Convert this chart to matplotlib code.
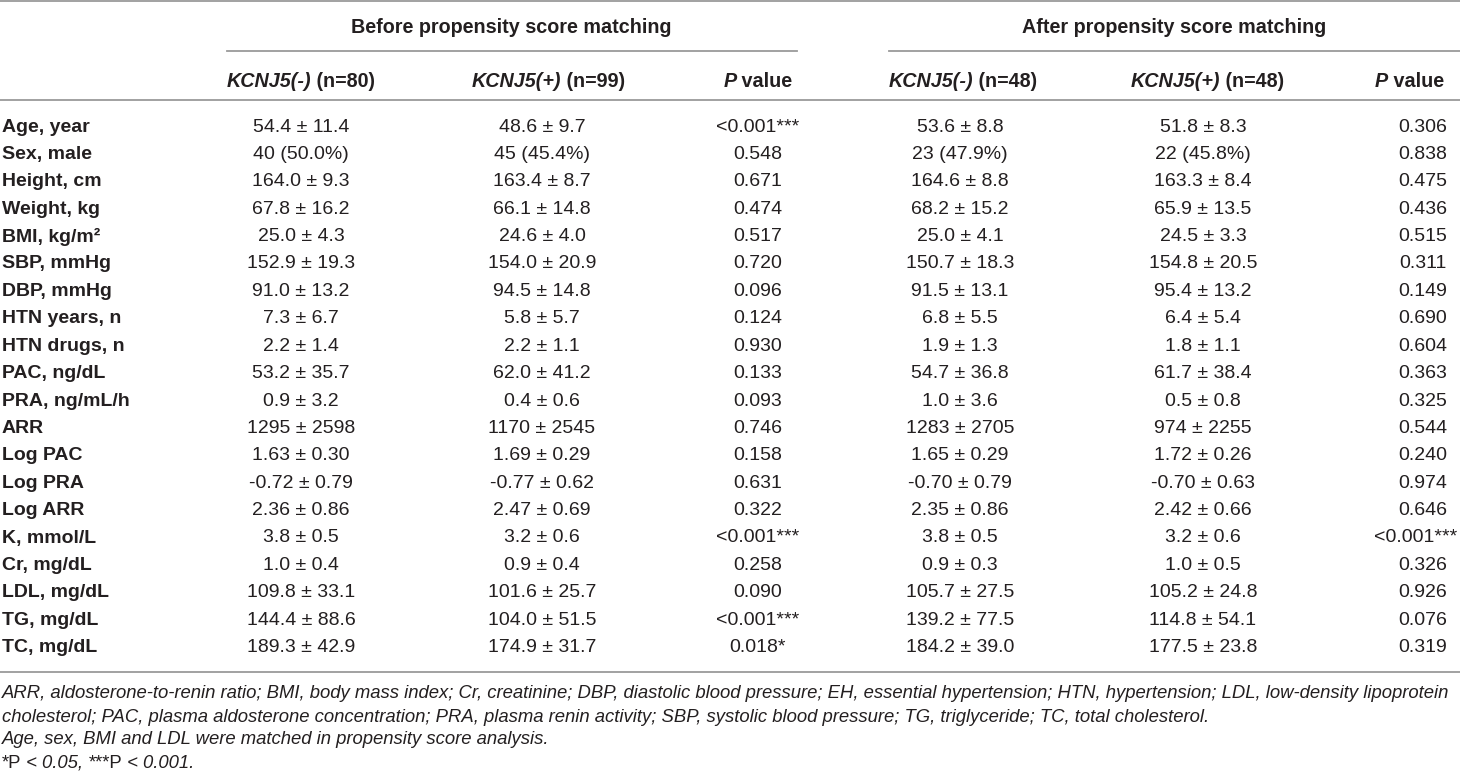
import matplotlib
matplotlib.use("Agg")
import matplotlib.pyplot as plt

# ---------------- data ----------------
row_labels = ["Age, year", "Sex, male", "Height, cm", "Weight, kg", "BMI, kg/m²",
              "SBP, mmHg", "DBP, mmHg", "HTN years, n", "HTN drugs, n", "PAC, ng/dL",
              "PRA, ng/mL/h", "ARR", "Log PAC", "Log PRA", "Log ARR", "K, mmol/L",
              "Cr, mg/dL", "LDL, mg/dL", "TG, mg/dL", "TC, mg/dL"]
before_neg = ["54.4 ± 11.4", "40 (50.0%)", "164.0 ± 9.3", "67.8 ± 16.2", "25.0 ± 4.3",
              "152.9 ± 19.3", "91.0 ± 13.2", "7.3 ± 6.7", "2.2 ± 1.4", "53.2 ± 35.7",
              "0.9 ± 3.2", "1295 ± 2598", "1.63 ± 0.30", "-0.72 ± 0.79", "2.36 ± 0.86",
              "3.8 ± 0.5", "1.0 ± 0.4", "109.8 ± 33.1", "144.4 ± 88.6", "189.3 ± 42.9"]
before_pos = ["48.6 ± 9.7", "45 (45.4%)", "163.4 ± 8.7", "66.1 ± 14.8", "24.6 ± 4.0",
              "154.0 ± 20.9", "94.5 ± 14.8", "5.8 ± 5.7", "2.2 ± 1.1", "62.0 ± 41.2",
              "0.4 ± 0.6", "1170 ± 2545", "1.69 ± 0.29", "-0.77 ± 0.62", "2.47 ± 0.69",
              "3.2 ± 0.6", "0.9 ± 0.4", "101.6 ± 25.7", "104.0 ± 51.5", "174.9 ± 31.7"]
before_p = ["<0.001***", "0.548", "0.671", "0.474", "0.517", "0.720", "0.096", "0.124",
            "0.930", "0.133", "0.093", "0.746", "0.158", "0.631", "0.322", "<0.001***",
            "0.258", "0.090", "<0.001***", "0.018*"]
after_neg = ["53.6 ± 8.8", "23 (47.9%)", "164.6 ± 8.8", "68.2 ± 15.2", "25.0 ± 4.1",
             "150.7 ± 18.3", "91.5 ± 13.1", "6.8 ± 5.5", "1.9 ± 1.3", "54.7 ± 36.8",
             "1.0 ± 3.6", "1283 ± 2705", "1.65 ± 0.29", "-0.70 ± 0.79", "2.35 ± 0.86",
             "3.8 ± 0.5", "0.9 ± 0.3", "105.7 ± 27.5", "139.2 ± 77.5", "184.2 ± 39.0"]
after_pos = ["51.8 ± 8.3", "22 (45.8%)", "163.3 ± 8.4", "65.9 ± 13.5", "24.5 ± 3.3",
             "154.8 ± 20.5", "95.4 ± 13.2", "6.4 ± 5.4", "1.8 ± 1.1", "61.7 ± 38.4",
             "0.5 ± 0.8", "974 ± 2255", "1.72 ± 0.26", "-0.70 ± 0.63", "2.42 ± 0.66",
             "3.2 ± 0.6", "1.0 ± 0.5", "105.2 ± 24.8", "114.8 ± 54.1", "177.5 ± 23.8"]
after_p = ["0.306", "0.838", "0.475", "0.436", "0.515", "0.311", "0.149", "0.690",
           "0.604", "0.363", "0.325", "0.544", "0.240", "0.974", "0.646", "<0.001***",
           "0.326", "0.926", "0.076", "0.319"]

group_headers = ["Before propensity score matching", "After propensity score matching"]
col_genes = ["KCNJ5(-)", "KCNJ5(+)", "P", "KCNJ5(-)", "KCNJ5(+)", "P"]
col_rest = [" (n=80)", " (n=99)", " value", " (n=48)", " (n=48)", " value"]

footnotes = [
    "ARR, aldosterone-to-renin ratio; BMI, body mass index; Cr, creatinine; DBP, diastolic blood pressure; EH, essential hypertension; HTN, hypertension; LDL, low-density lipoprotein",
    "cholesterol; PAC, plasma aldosterone concentration; PRA, plasma renin activity; SBP, systolic blood pressure; TG, triglyceride; TC, total cholesterol.",
    "Age, sex, BMI and LDL were matched in propensity score analysis.",
]
sig_note = [("*P", "normal"), (" < 0.05, ", "italic"), ("***P", "normal"), (" < 0.001.", "italic")]

# ---------------- layout ----------------
W, H = 1460, 779
fig = plt.figure(figsize=(W / 100, H / 100), dpi=100)
ax = fig.add_axes([0, 0, 1, 1])
ax.set_xlim(0, W)
ax.set_ylim(H, 0)
ax.axis("off")

FAM = ["Liberation Sans", "DejaVu Sans"]
FS = 14.0
HFS = 14.2
FFS = 13.3
TXT = "#231f20"
LINE = "#9a9a9a"
RIGHT_LIMIT = 1457

fig.canvas.draw()
renderer = fig.canvas.get_renderer()


def runs(x, y, parts, ha="center"):
    """parts: list of (text, kwargs); drawn one after another, as a unit."""
    objs, widths = [], []
    for t, kw in parts:
        o = ax.text(0, y, t, va="center", ha="left", color=TXT, family=FAM, **kw)
        objs.append(o)
        widths.append(o.get_window_extent(renderer=renderer).width)
    total = sum(widths)
    x0 = x - total / 2 if ha == "center" else x
    for o, w in zip(objs, widths):
        o.set_x(x0)
        x0 += w


def cell(cx, y, s):
    o = ax.text(cx, y, s, ha="center", va="center", color=TXT, family=FAM, fontsize=FS)
    w = o.get_window_extent(renderer=renderer).width
    if cx + w / 2 > RIGHT_LIMIT:
        o.set_ha("right")
        o.set_x(RIGHT_LIMIT)


col_x = [301, 542, 758, 960, 1203, 1423]
head_x = [301, 548, 758, 963, 1207, 1409]

# rules
lw = 1.3
ax.plot([0, W], [1, 1], color=LINE, lw=lw)
ax.plot([227, 797], [51, 51], color=LINE, lw=lw)
ax.plot([889, W], [51, 51], color=LINE, lw=lw)
ax.plot([0, W], [100, 100], color=LINE, lw=lw)
ax.plot([0, W], [672, 672], color=LINE, lw=lw)

# group headers
for gx, g in zip([511, 1174], group_headers):
    ax.text(gx, 27, g, ha="center", va="center", color=TXT,
            family=FAM, fontsize=HFS, fontweight="bold")

# column headers
for i, hx in enumerate(head_x):
    runs(hx, 81, [(col_genes[i], dict(fontsize=HFS, fontweight="bold", style="italic")),
                  (col_rest[i], dict(fontsize=HFS, fontweight="bold"))])

# body rows
y0, dy = 127, 27.4
cols = [before_neg, before_pos, before_p, after_neg, after_pos, after_p]
for r, lab in enumerate(row_labels):
    y = y0 + r * dy
    ax.text(2, y, lab, ha="left", va="center", color=TXT, family=FAM,
            fontsize=FS, fontweight="bold")
    for c, cx in enumerate(col_x):
        cell(cx, y, cols[c][r])

# footnotes
fy = [693, 717, 740, 763]
for k, t in enumerate(footnotes):
    ax.text(2, fy[k], t, ha="left", va="center", color=TXT,
            family=FAM, fontsize=FFS, style="italic")
runs(2, fy[3], [(t, dict(fontsize=FFS, style=s)) for t, s in sig_note], ha="left")

fig.savefig("out.png", dpi=100)
